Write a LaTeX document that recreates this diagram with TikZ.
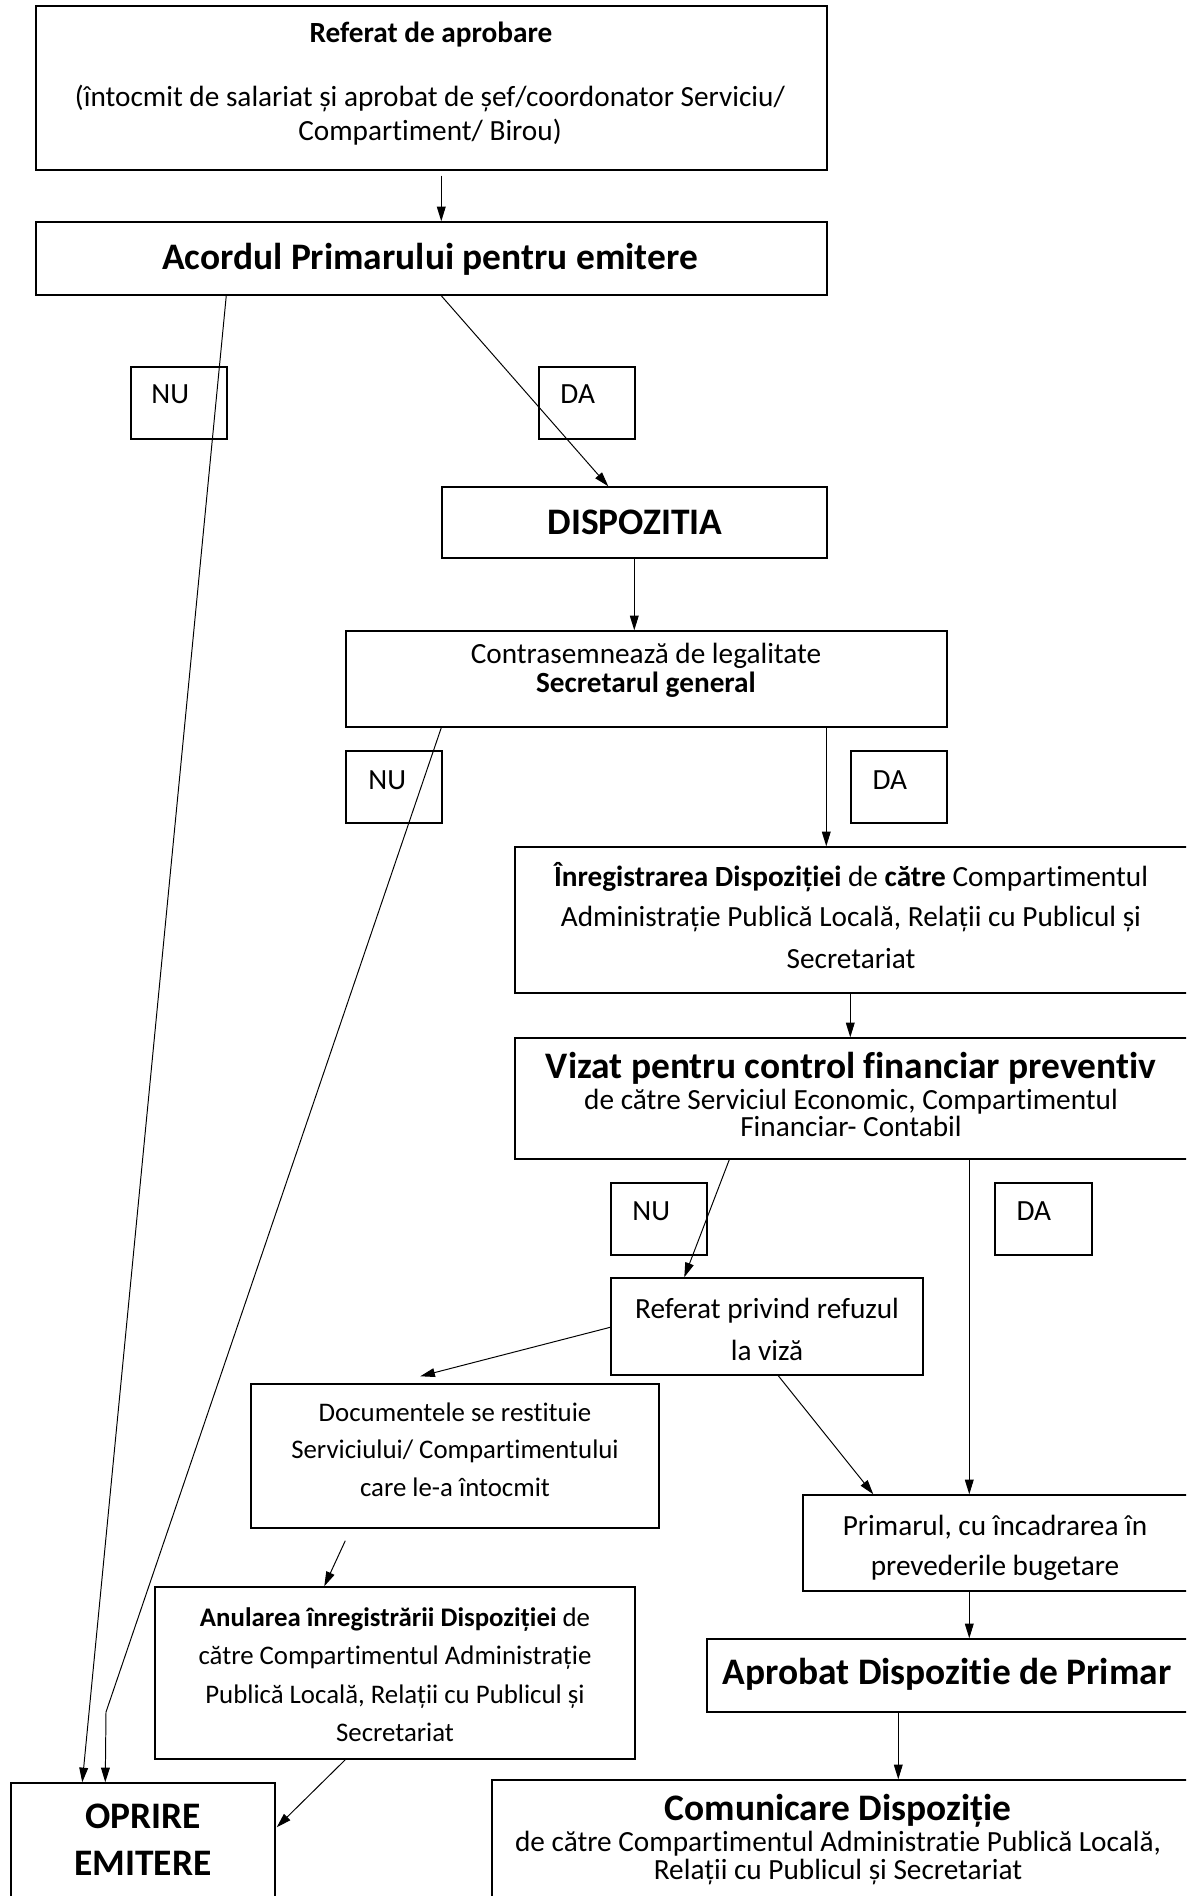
\documentclass[tikz,border=0pt]{standalone}
\usepackage{fontspec}
\setmainfont{Carlito}[RawFeature={-liga;-clig;-calt;-dlig}]
\usetikzlibrary{arrows.meta,calc,fit}
\begin{document}
\begin{tikzpicture}[x=0.41pt,y=-0.41pt,
  box/.style={draw, line width=0.6pt, inner sep=0pt},
  arr/.style={line width=0.4pt, -{Triangle[length=6pt,width=3.6pt]}},
  tx/.style={inner sep=0pt, anchor=base, font=\fontsize{12}{14}\selectfont},
  txs/.style={inner sep=0pt, anchor=base, font=\fontsize{11}{13}\selectfont},
  big/.style={inner sep=0pt, anchor=base, font=\fontsize{15.35}{18}\selectfont\bfseries},
  tag/.style={inner sep=0pt, anchor=base west, font=\fontsize{12}{14}\selectfont},
]
\useasboundingbox (0,0) rectangle (1186,1896);
\fill[white] (0,0) rectangle (1186,1896);
\clip (0,0) rectangle (1186,1896);

% ---------- boxes ----------
\node[box, fit={(36,6) (827,170)}] (ref) {};
\node[box, fit={(36,222) (827,295)}] (acord) {};
\node[box, fit={(442,487) (827,558)}] (disp) {};
\node[box, fit={(346,631) (947,727)}] (contra) {};
\node[box, fit={(515,847) (1200,993)}] (inreg) {};
\node[box, fit={(515,1038) (1200,1159)}] (vizat) {};
\node[box, fit={(611,1278) (923,1375)}] (refp) {};
\node[box, fit={(251,1384) (659,1528)}] (docs) {};
\node[box, fit={(155,1587) (635,1759)}] (anul) {};
\node[box, fit={(11,1783) (275,1910)}] (oprire) {};
\node[box, fit={(803,1495) (1200,1591)}] (primar) {};
\node[box, fit={(707,1639) (1200,1712)}] (aprob) {};
\node[box, fit={(492,1780) (1200,1910)}] (comun) {};

% decision tags
\node[box, fit={(131,367) (227,439)}] (nu1) {};
\node[box, fit={(539,367) (635,439)}] (da1) {};
\node[box, fit={(346,751) (442,823)}] (nu2) {};
\node[box, fit={(851,751) (947,823)}] (da2) {};
\node[box, fit={(611,1183) (707,1255)}] (nu3) {};
\node[box, fit={(995,1183) (1092,1255)}] (da3) {};

% ---------- texts ----------
\node[tx] (refA) at (431,43) {\bfseries Referat de aprobare};
\node[tx] (refB) at (430,107) {(întocmit de salariat și aprobat de șef/coordonator Serviciu/};
\node[tx] (refC) at (430,141) {Compartiment/ Birou)};

\node[big] (acordT) at (430,270) {Acordul Primarului pentru emitere};
\node[big] (dispT) at (635,534) {DISPOZITIA};

\node[tx] (contraA) at (646,663) {Contrasemnează de legalitate};
\node[tx] (contraB) at (646,692) {\bfseries Secretarul general};

\node[tag] (nu1T) at (151,404) {NU};
\node[tag] (da1T) at (560,404) {DA};
\node[tag] (nu2T) at (368,789) {NU};
\node[tag] (da2T) at (872,789) {DA};
\node[tag] (nu3T) at (632,1220) {NU};
\node[tag] (da3T) at (1016,1220) {DA};

\node[tx] (inregA) at (851,886) {\textbf{Înregistrarea Dispoziției} de \textbf{către} Compartimentul};
\node[tx] (inregB) at (851,926) {Administrație Publică Locală, Relații cu Publicul și};
\node[tx] (inregC) at (851,968) {Secretariat};

\node[big] (vizatA) at (851,1078) {Vizat pentru control financiar preventiv};
\node[tx] (vizatB) at (851,1109) {de către Serviciul Economic, Compartimentul};
\node[tx] (vizatC) at (851,1136) {Financiar- Contabil};

\node[tx] (refpA) at (767,1318) {Referat privind refuzul};
\node[tx] (refpB) at (767,1360) {la viză};

\node[txs] (docsA) at (455,1421) {Documentele se restituie};
\node[txs] (docsB) at (455,1458) {Serviciului/ Compartimentului};
\node[txs] (docsC) at (455,1496) {care le-a întocmit};

\node[txs] (anulA) at (395,1626) {\textbf{Anularea înregistrării Dispoziției} de};
\node[txs] (anulB) at (395,1664) {către Compartimentul Administrație};
\node[txs] (anulC) at (395,1703) {Publică Locală, Relații cu Publicul și};
\node[txs] (anulD) at (395,1741) {Secretariat};

\node[big] (oprireA) at (143,1828) {OPRIRE};
\node[big] (oprireB) at (143,1875) {EMITERE};

\node[tx] (primarA) at (995,1535) {Primarul, cu încadrarea în};
\node[tx] (primarB) at (995,1575) {prevederile bugetare};

\node[big] (aprobT) at (947,1684) {Aprobat Dispozitie de Primar};

\node[big] (comunA) at (838,1820) {Comunicare Dispoziție};
\node[tx] (comunB) at (838,1851) {de către Compartimentul Administratie Publică Locală,};
\node[tx] (comunC) at (838,1879) {Relații cu Publicul și Secretariat};

% ---------- connectors ----------
\coordinate (nubend) at (106,1712);
\coordinate (docsout) at ($(docs.north west)+(170,-7)$);

\draw[arr] ($(ref.south west)+(406,5)$) -- ($(acord.north west)+(406,0)$);
\draw[arr] ($(acord.south west)+(191,0)$) -- ($(oprire.north west)+(72,0)$);
\draw[arr] ($(acord.south west)+(406,0)$) -- ($(disp.north west)+(167,0)$);
\draw[arr] ($(disp.south west)+(193,0)$) -- ($(contra.north west)+(289,0)$);
\draw[arr] ($(contra.south west)+(96,0)$) -- (nubend) -- ($(oprire.north west)+(95,0)$);
\draw[arr] ($(contra.south west)+(481,0)$) -- ($(inreg.north west)+(312,0)$);
\draw[arr] ($(inreg.south west)+(336,0)$) -- ($(vizat.north west)+(336,0)$);
\draw[arr] ($(vizat.south west)+(215,0)$) -- ($(refp.north west)+(74,0)$);
\draw[arr] ($(vizat.south west)+(455,0)$) -- ($(primar.north west)+(167,0)$);
\draw[arr] ($(refp.north west)+(0,50)$) -- (docsout);
\draw[arr] ($(refp.south west)+(168,0)$) -- ($(primar.north west)+(71,0)$);
\draw[arr] ($(docs.south west)+(95,12)$) -- ($(anul.north west)+(170,0)$);
\draw[arr] ($(anul.south west)+(191,0)$) -- ($(oprire.north east)+(1,45)$);
\draw[arr] ($(primar.south west)+(167,0)$) -- ($(aprob.north west)+(263,0)$);
\draw[arr] ($(aprob.south west)+(192,0)$) -- ($(comun.north west)+(407,0)$);
\end{tikzpicture}
\end{document}
